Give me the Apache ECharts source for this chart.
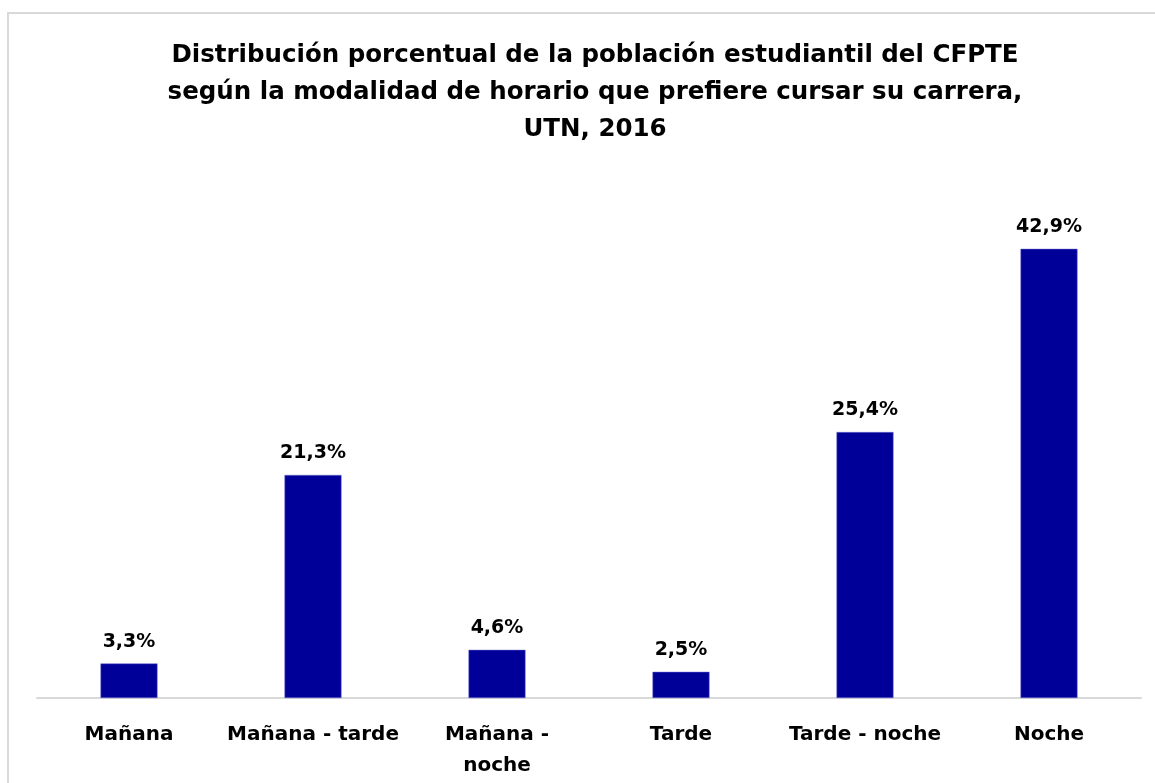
<!DOCTYPE html>
<html>
<head>
<meta charset="utf-8">
<script src="https://cdn.jsdelivr.net/npm/echarts@6/dist/echarts.min.js"></script>
<style>
  html, body { margin: 0; padding: 0; background: #fff; overflow: hidden; }
  #main { width: 1155px; height: 783px; }
</style>
</head>
<body>
<div id="main"></div>
<script>
// categorias del eje x
var categorias = ['Mañana', 'Mañana - tarde', 'Mañana -\nnoche', 'Tarde', 'Tarde - noche', 'Noche']
// porcentaje de estudiantes
var porcentajes = [3.3, 21.3, 4.6, 2.5, 25.4, 42.9]

var titulo = 'Distribución porcentual de la población estudiantil del CFPTE\nsegún la modalidad de horario que prefiere cursar su carrera,\nUTN, 2016'

var fuente = '"DejaVu Sans", sans-serif'

var myChart = echarts.init(document.getElementById('main'))
var option = {
  backgroundColor: '#fff',
  animation: false,
  title: {
    text: titulo,
    left: 590,
    textAlign: 'center',
    top: 32,
    textStyle: {
      fontFamily: fuente,
      fontWeight: 'bold',
      fontSize: 24.5,
      lineHeight: 37,
      color: '#000',
    },
  },
  // marco del grafico (solo lados izquierdo y superior son visibles)
  graphic: [
    {
      type: 'polyline',
      shape: { points: [[8, 800], [8, 13], [1160, 13]] },
      style: { fill: 'none', stroke: '#d9d9d9', lineWidth: 2 },
      silent: true,
    },
  ],
  grid: {
    left: 37,
    right: 14,
    top: 174.5,
    bottom: 85,
  },
  xAxis: {
    type: 'category',
    data: categorias,
    axisTick: { show: false },
    axisLine: { lineStyle: { color: '#d9d9d9', width: 2 } },
    axisLabel: {
      margin: 21,
      color: '#000',
      fontFamily: fuente,
      fontWeight: 'bold',
      fontSize: 20,
      lineHeight: 31,
      interval: 0,
    },
  },
  yAxis: {
    type: 'value',
    min: 0,
    max: 50,
    show: false,
    splitLine: { show: false },
  },
  series: [
    {
      type: 'bar',
      data: porcentajes,
      barWidth: 57,
      itemStyle: {
        color: '#000099',
        borderColor: '#6b6bd0',
        borderWidth: 0.5,
      },
      label: {
        show: true,
        position: 'top',
        distance: 12,
        color: '#000',
        fontFamily: fuente,
        fontWeight: 'bold',
        fontSize: 19,
        formatter: function (p) {
          return p.value.toFixed(1).replace('.', ',') + '%'
        },
      },
    },
  ],
}
myChart.setOption(option)
</script>
</body>
</html>
